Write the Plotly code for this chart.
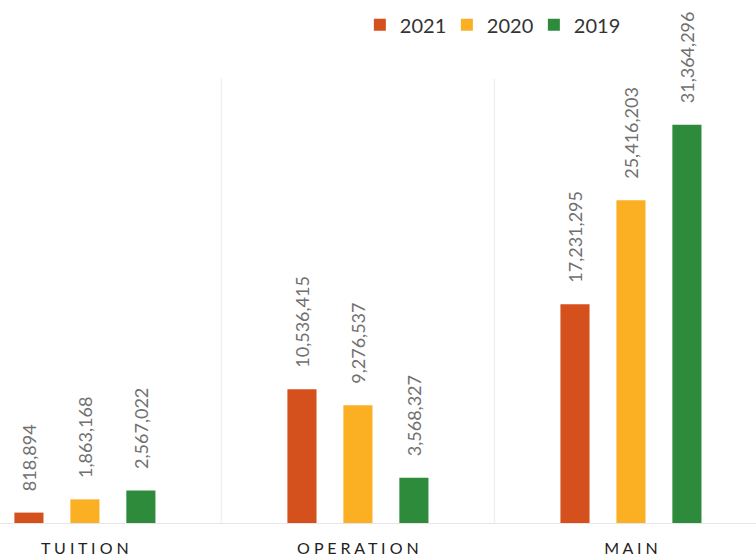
import plotly.graph_objects as go

categories = ["TUITION", "OPERATION", "MAIN"]
tick_labels = ["T U I T I O N", "O P E R A T I O N", "M A I N"]
years = ["2021", "2020", "2019"]
values_2021 = [818894, 10536415, 17231295]
values_2020 = [1863168, 9276537, 25416203]
values_2019 = [2567022, 3568327, 31364296]
colors = ["#D4501C", "#FBB024", "#2E8B3C"]

series = [values_2021, values_2020, values_2019]
pad = "\u00a0" * 4

fig = go.Figure()
for name, vals, col in zip(years, series, colors):
    fig.add_trace(go.Bar(
        x=categories, y=vals, name=name,
        marker=dict(color=col, line=dict(width=0)),
        text=[pad + f"{v:,}" for v in vals],
        textposition="outside", textangle=-90,
        constraintext="none",
        textfont=dict(family="Lato", size=18, color="#707070"),
        cliponaxis=False,
    ))

fig.add_shape(type="line", xref="x", yref="paper", x0=0.5, x1=0.5, y0=0, y1=0.85,
              line=dict(color="#eef0f4", width=1.5))
fig.add_shape(type="line", xref="x", yref="paper", x0=1.5, x1=1.5, y0=0, y1=0.85,
              line=dict(color="#eef0f4", width=1.5))

fig.update_layout(
    width=756, height=560,
    margin=dict(l=0, r=0, t=0, b=37, autoexpand=False),
    paper_bgcolor="white", plot_bgcolor="white",
    barmode="group", bargap=0.385, bargroupgap=0.48,
    showlegend=True,
    legend=dict(orientation="h", x=0.476, y=0.99, xanchor="left", yanchor="top",
                font=dict(family="Lato", size=20, color="#333333"),
                entrywidth=42, entrywidthmode="pixels",
                itemwidth=30, tracegroupgap=0, bgcolor="rgba(0,0,0,0)"),
    font=dict(family="Lato"),
)
fig.update_xaxes(
    range=[-0.311, 2.458],
    tickvals=categories, ticktext=tick_labels,
    tickfont=dict(family="Lato", size=16, color="#222222"),
    ticks="outside", ticklen=11, tickcolor="rgba(0,0,0,0)",
    showline=True, linecolor="#e6e6e6", linewidth=1,
    showgrid=False, zeroline=False,
)
fig.update_yaxes(range=[0, 41.18e6], visible=False, showgrid=False, zeroline=False)

fig.write_html("out.html", config={"displayModeBar": False},
               post_script="document.body.style.margin='0';")
